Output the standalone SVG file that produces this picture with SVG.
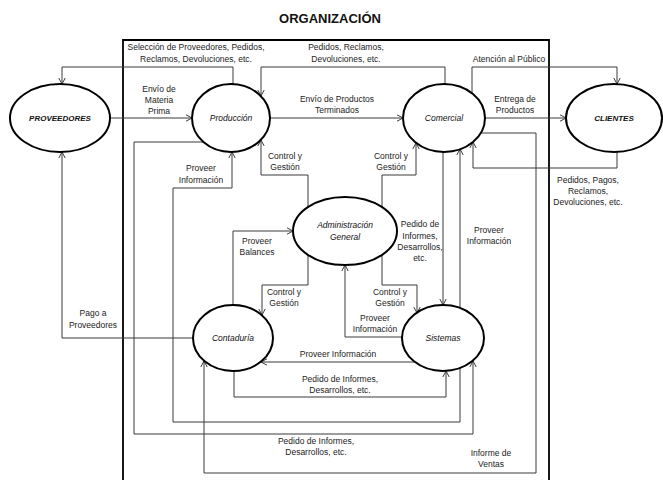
<svg xmlns="http://www.w3.org/2000/svg" width="663" height="480" viewBox="0 0 663 480">
  <style>
    .node { fill: #fff; stroke: #000; stroke-width: 2; }
    .nl { font-family: "Liberation Sans", Arial, sans-serif; font-size: 8.5px; font-style: italic; fill: #111; text-anchor: middle; }
    .nlb { font-family: "Liberation Sans", Arial, sans-serif; font-size: 8px; font-style: italic; font-weight: bold; fill: #111; text-anchor: middle; }
    .lbl { font-family: "Liberation Sans", Arial, sans-serif; font-size: 8.5px; fill: #222; text-anchor: middle; }
    .title { font-family: "Liberation Sans", Arial, sans-serif; font-size: 13px; font-weight: bold; fill: #111; text-anchor: middle; }
    .edge { fill: none; stroke: #3a3a3a; stroke-width: 1; }
    .arr { marker-end: url(#open); }
  </style>
  <defs>
    <marker id="open" markerUnits="userSpaceOnUse" markerWidth="8" markerHeight="8" viewBox="0 0 8 8" refX="7" refY="4" orient="auto">
      <path d="M1,0.8 L7,4 L1,7.2" fill="none" stroke="#3a3a3a" stroke-width="1"/>
    </marker>
  </defs>

  <rect width="663" height="480" fill="#fff"/>

  <!-- organisation frame -->
  <text class="title" x="330" y="23">ORGANIZACIÓN</text>
  <path d="M123,482 V40 H549 V482" fill="none" stroke="#000" stroke-width="1.8"/>

  <!-- connectors -->
  <g id="connectors">
    <path class="edge arr" d="M233,84 V67 H62 V84"/>
    <path class="edge arr" d="M445,84 V67 H261 V96"/>
    <path class="edge arr" d="M110,118 H192"/>
    <path class="edge arr" d="M270,118 H403"/>
    <path class="edge arr" d="M485,118 H566"/>
    <path class="edge arr" d="M472,93 V67 H617 V84"/>
    <path class="edge arr" d="M617,152 V168 H473 V142"/>
    <path class="edge arr" d="M481,133 H536 V473 H204 V361"/>
    <path class="edge arr" d="M203,142 H134 V434 H473 V361"/>
    <path class="edge arr" d="M460,368 V422 H173 V188 H232 V152"/>
    <path class="edge arr" d="M308,207 V175 H261 V140"/>
    <path class="edge arr" d="M382,207 V175 H416 V143"/>
    <path class="edge arr" d="M443,152 V305"/>
    <path class="edge arr" d="M460,308 V149"/>
    <path class="edge arr" d="M233,305 V231 H293"/>
    <path class="edge arr" d="M308,255 V285 H262 V315"/>
    <path class="edge arr" d="M382,255 V285 H417 V313"/>
    <path class="edge arr" d="M402,337 H345 V265"/>
    <path class="edge arr" d="M193,338 H62 V152"/>
    <path class="edge arr" d="M415,362 H261"/>
    <path class="edge arr" d="M234,371 V397 H446 V371"/>

    <!-- connector labels -->
    <text class="lbl" x="196" y="50">Selección de Proveedores, Pedidos,</text>
    <text class="lbl" x="196" y="62">Reclamos, Devoluciones, etc.</text>
    <text class="lbl" x="346" y="50">Pedidos, Reclamos,</text>
    <text class="lbl" x="346" y="62">Devoluciones, etc.</text>
    <text class="lbl" x="509" y="62">Atención al Público</text>
    <text class="lbl" x="159" y="92">Envío de</text>
    <text class="lbl" x="159" y="103">Materia</text>
    <text class="lbl" x="159" y="114">Prima</text>
    <text class="lbl" x="337" y="102">Envío de Productos</text>
    <text class="lbl" x="337" y="113">Terminados</text>
    <text class="lbl" x="515" y="102">Entrega de</text>
    <text class="lbl" x="515" y="113">Productos</text>
    <text class="lbl" x="285" y="159">Control y</text>
    <text class="lbl" x="285" y="170">Gestión</text>
    <text class="lbl" x="201" y="171">Proveer</text>
    <text class="lbl" x="201" y="183">Información</text>
    <text class="lbl" x="391" y="159">Control y</text>
    <text class="lbl" x="391" y="170">Gestión</text>
    <text class="lbl" x="588" y="183">Pedidos, Pagos,</text>
    <text class="lbl" x="588" y="194">Reclamos,</text>
    <text class="lbl" x="588" y="205">Devoluciones, etc.</text>
    <text class="lbl" x="420" y="227">Pedido de</text>
    <text class="lbl" x="420" y="239">Informes,</text>
    <text class="lbl" x="420" y="250">Desarrollos,</text>
    <text class="lbl" x="420" y="261">etc.</text>
    <text class="lbl" x="489" y="233">Proveer</text>
    <text class="lbl" x="489" y="244">Información</text>
    <text class="lbl" x="257" y="244">Proveer</text>
    <text class="lbl" x="257" y="255">Balances</text>
    <text class="lbl" x="284" y="295">Control y</text>
    <text class="lbl" x="284" y="306">Gestión</text>
    <text class="lbl" x="390" y="295">Control y</text>
    <text class="lbl" x="390" y="306">Gestión</text>
    <text class="lbl" x="93" y="316">Pago a</text>
    <text class="lbl" x="93" y="328">Proveedores</text>
    <text class="lbl" x="375" y="321">Proveer</text>
    <text class="lbl" x="375" y="332">Información</text>
    <text class="lbl" x="338" y="357">Proveer Información</text>
    <text class="lbl" x="340" y="382">Pedido de Informes,</text>
    <text class="lbl" x="340" y="393">Desarrollos, etc.</text>
    <text class="lbl" x="316" y="444">Pedido de Informes,</text>
    <text class="lbl" x="316" y="455">Desarrollos, etc.</text>
    <text class="lbl" x="491" y="456">Informe de</text>
    <text class="lbl" x="491" y="467">Ventas</text>
  </g>

  <!-- nodes -->
  <g id="proveedores">
    <ellipse class="node" cx="60" cy="118" rx="50" ry="34"/>
    <text class="nlb" x="60" y="121">PROVEEDORES</text>
  </g>
  <g id="produccion">
    <ellipse class="node" cx="231" cy="118" rx="39" ry="34"/>
    <text class="nl" x="231" y="121">Producción</text>
  </g>
  <g id="comercial">
    <ellipse class="node" cx="444" cy="118" rx="41" ry="34"/>
    <text class="nl" x="444" y="121">Comercial</text>
  </g>
  <g id="clientes">
    <ellipse class="node" cx="614" cy="118" rx="48" ry="34"/>
    <text class="nlb" x="614" y="121">CLIENTES</text>
  </g>
  <g id="administracion">
    <ellipse class="node" cx="345" cy="231" rx="52" ry="34"/>
    <text class="nl" x="345" y="228">Administración</text>
    <text class="nl" x="345" y="240">General</text>
  </g>
  <g id="contaduria">
    <ellipse class="node" cx="233" cy="338" rx="40" ry="33"/>
    <text class="nl" x="233" y="341">Contaduría</text>
  </g>
  <g id="sistemas">
    <ellipse class="node" cx="443" cy="338" rx="41" ry="33"/>
    <text class="nl" x="443" y="341">Sistemas</text>
  </g>
</svg>
